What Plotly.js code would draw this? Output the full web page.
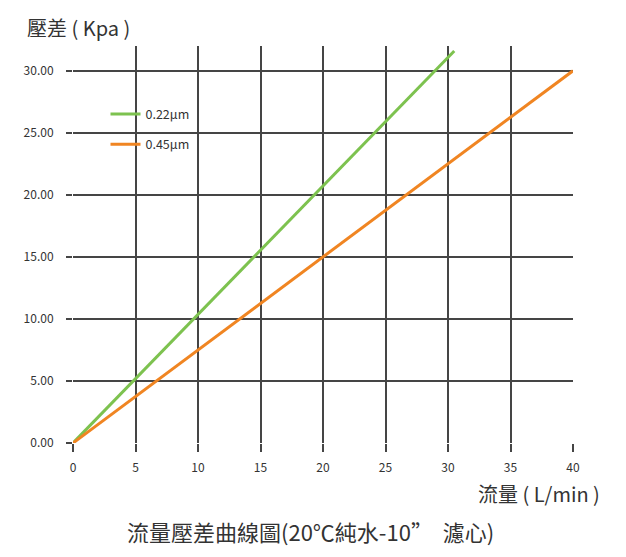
<!DOCTYPE html>
<html>
<head>
<meta charset="utf-8">
<script src="https://cdn.plot.ly/plotly-3.0.1.min.js"></script>
<style>html,body{margin:0;padding:0;background:#fff;}#chart{width:626px;height:557px;}</style>
</head>
<body>
<div id="chart"></div>
<script>
const seriesNames = ['0.22µm', '0.45µm'];
const flow022 = [0, 30.5];
const dp022 = [0, 31.6];
const flow045 = [0, 40];
const dp045 = [0, 30];
const xTicks = [0, 5, 10, 15, 20, 25, 30, 35, 40];
const yTicks = [0, 5, 10, 15, 20, 25, 30];
const yTickText = yTicks.map(v => v.toFixed(2));

const fontFam = '"Noto Sans CJK TC", "Noto Sans", sans-serif';
const gridC = '#454545';

const traces = [
  {x: flow022, y: dp022, name: seriesNames[0], mode: 'lines', legendgroup: 'a',
   line: {color: '#7dc24f', width: 3}},
  {x: flow045, y: dp045, name: seriesNames[1], mode: 'lines', legendgroup: 'b',
   line: {color: '#f08522', width: 3}}
];

const layout = {
  width: 626, height: 557,
  margin: {l: 72.5, r: 53, t: 46, b: 114},
  paper_bgcolor: '#fff', plot_bgcolor: '#fff',
  font: {family: fontFam, color: '#333', size: 12},
  showlegend: true,
  legend: {x: 0.065, y: 0.79, xanchor: 'left', yanchor: 'middle', bgcolor: 'rgba(0,0,0,0)',
           font: {size: 12.5, color: '#333'}, tracegroupgap: 11, itemwidth: 30},
  xaxis: {range: [0, 40], tickvals: xTicks, ticktext: xTicks.map(String),
          showgrid: true, gridcolor: gridC, gridwidth: 2, zeroline: false,
          ticks: 'outside', ticklen: 8, tickwidth: 2, tickcolor: gridC,
          showline: false, ticklabelstandoff: 6, tickfont: {size: 12, color: '#333'}},
  yaxis: {range: [0, 32], tickvals: yTicks, ticktext: yTickText,
          showgrid: true, gridcolor: gridC, gridwidth: 2, zeroline: false,
          ticks: 'outside', ticklen: 6, tickwidth: 2, tickcolor: gridC,
          showline: false, ticklabelstandoff: 10, tickfont: {size: 12, color: '#333'}},
  shapes: [
    {type: 'rect', xref: 'paper', yref: 'y', x0: -0.02, x1: 1.02, y0: 30.8, y1: 33,
     fillcolor: '#fff', line: {width: 0}, layer: 'between'}
  ],
  annotations: [
    {text: '壓差 ( Kpa )', xref: 'paper', yref: 'paper', x: -0.097, y: 1.047, xanchor: 'left', yanchor: 'middle',
     showarrow: false, font: {size: 20, color: '#333', family: fontFam}},
    {text: '流量 ( L/min )', xref: 'paper', yref: 'paper', x: 1.058, y: -0.128, xanchor: 'right', yanchor: 'middle',
     showarrow: false, font: {size: 20, color: '#333', family: fontFam}},
    {text: '流量壓差曲線圖(20℃純水-10”  濾心)', xref: 'paper', yref: 'paper', x: 0.475, y: -0.222, xanchor: 'center', yanchor: 'middle',
     showarrow: false, font: {size: 22, color: '#333', family: fontFam}}
  ]
};

Plotly.newPlot('chart', traces, layout, {displayModeBar: false, staticPlot: true});
</script>
</body>
</html>
